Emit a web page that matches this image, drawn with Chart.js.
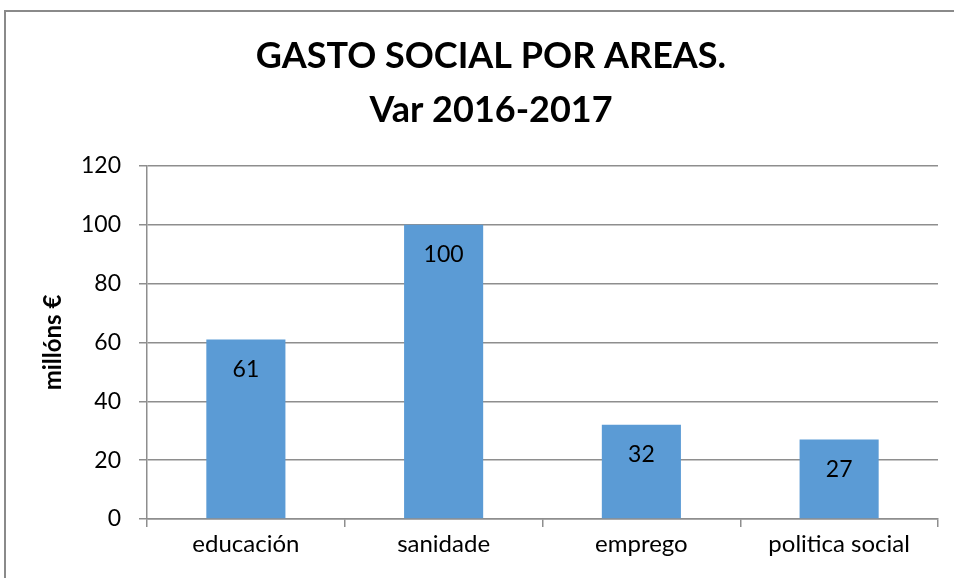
<!DOCTYPE html>
<html>
<head>
<meta charset="utf-8">
<script src="https://cdn.jsdelivr.net/npm/chart.js@4/dist/chart.umd.min.js"></script>
<style>
    body { margin: 0; background: #fff; }
    #wrap { position: absolute; left: 0; top: 0; width: 954px; height: 578px; }
    #marco { position: absolute; left: 4px; top: 10px; width: 1000px; height: 1000px;
             border-left: 2px solid #8a8a8a; border-top: 2px solid #8a8a8a; }
</style>
</head>
<body>
<div id="marco"></div>
<div id="wrap"><canvas id="chart"></canvas></div>
<script>
const areas = ['educación', 'sanidade', 'emprego', 'politica social'];
const gasto = [61, 100, 32, 27];
const titulo = ['GASTO SOCIAL POR AREAS.', 'Var 2016-2017'];
const tituloEixo = 'millóns €';

// etiquetas dentro da barra, preto
const etiquetas = {
    id: 'etiquetas',
    afterDatasetsDraw(chart) {
        const ctx = chart.ctx;
        const meta = chart.getDatasetMeta(0);
        ctx.save();
        ctx.font = '23px Lato';
        ctx.fillStyle = '#000';
        ctx.textAlign = 'center';
        ctx.textBaseline = 'middle';
        meta.data.forEach((bar, i) => {
            ctx.fillText(String(chart.data.datasets[0].data[i]), bar.x, bar.y + 30);
        });
        ctx.restore();
    }
};

function totalChart(ctx) {
    const chart = new Chart(ctx, {
        type: 'bar',
        data: {
            labels: areas,
            datasets: [{
                label: 'gasto',
                data: gasto,
                backgroundColor: '#5b9bd5',
                barPercentage: 0.4,
                categoryPercentage: 1
            }]
        },
        options: {
            responsive: true,
            maintainAspectRatio: false,
            animation: false,
            layout: { padding: { left: 44, right: 16, top: 0, bottom: 0 } },
            plugins: {
                legend: { display: false },
                tooltip: { enabled: false },
                title: {
                    display: true,
                    text: titulo,
                    color: '#000',
                    font: { family: 'Lato', size: 36, weight: 'bold', lineHeight: 1.5 },
                    padding: { top: 29, bottom: 29 }
                }
            },
            scales: {
                x: {
                    afterFit(scale) { scale.height = 59; },
                    grid: { drawOnChartArea: false, tickLength: 8, color: '#8e8e8e', lineWidth: 1.5 },
                    border: { color: '#8e8e8e', width: 1.5 },
                    ticks: { color: '#000', font: { family: 'Lato', size: 24 }, padding: 3 }
                },
                y: {
                    min: 0,
                    max: 120,
                    afterFit(scale) { scale.width = 103; },
                    ticks: { stepSize: 20, color: '#000', font: { family: 'Lato', size: 23 }, padding: 18 },
                    grid: { tickLength: 8, color: '#8e8e8e', lineWidth: 1.5 },
                    border: { color: '#8e8e8e', width: 1.5 },
                    title: {
                        display: true,
                        text: tituloEixo,
                        color: '#000',
                        font: { family: 'Lato', size: 24, weight: 'bold', lineHeight: 1 },
                        padding: { top: -3, bottom: 0 }
                    }
                }
            }
        },
        plugins: [etiquetas]
    });
}

totalChart(document.getElementById('chart').getContext('2d'));
</script>
</body>
</html>
